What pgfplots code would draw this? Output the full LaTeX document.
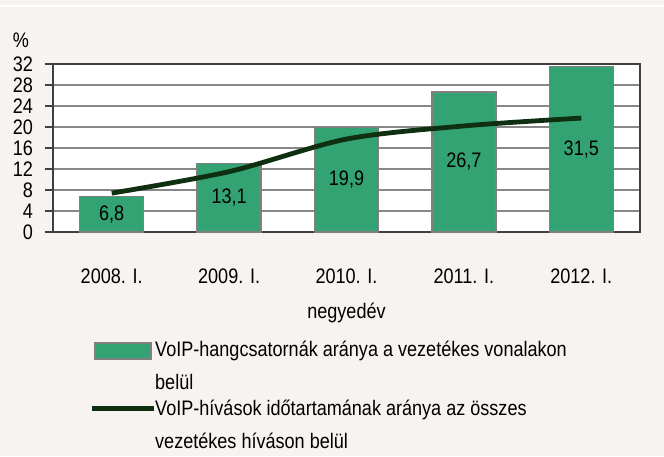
\documentclass[border=0pt]{standalone}
\usepackage{fontspec}
\setmainfont{Liberation Sans}[FakeStretch=0.86]
\usepackage{pgfplots}
\pgfplotsset{compat=1.18}

\definecolor{bg}{RGB}{246,243,240}
\definecolor{barg}{RGB}{52,163,116}
\definecolor{lineg}{RGB}{14,48,16}
\definecolor{gridc}{RGB}{135,135,135}
\definecolor{framec}{RGB}{64,64,64}
\newcommand\chartfont{\fontsize{10.5}{12.6}\selectfont}

\pgfplotsset{
    barleg/.style={legend image code/.code={\draw[##1, line width=0.7pt] (-14pt,4pt) rectangle (14pt,12pt);}},
    lineleg/.style={legend image code/.code={\draw[##1] (-15.5pt,8.5pt) -- (15.5pt,8.5pt);}},
}

\begin{document}
\begin{tikzpicture}
\fill[bg] (0,0) rectangle (332pt,228pt);
\draw[white, line width=1pt] (0,225.2pt) -- (332pt,225.2pt);
\begin{axis}[
    at={(26.5pt,112pt)}, anchor=south west,
    scale only axis, width=293.5pt, height=84pt,
    clip=false,
    xmin=-0.5, xmax=4.5, ymin=0, ymax=32,
    xtick={0,...,4},
    xticklabels={2008. I., 2009. I., 2010. I., 2011. I., 2012. I.},
    ytick={0,4,...,32},
    ymajorgrids,
    major grid style={gridc, line width=0.7pt},
    axis line style={framec, line width=0.9pt},
    axis background/.style={fill=white},
    tick align=outside, ytick pos=left, major tick length=4pt,
    xtick style={draw=none},
    ytick style={framec, line width=0.9pt},
    /pgf/number format/assume math mode=true,
    tick label style={font=\chartfont, text=black},
    xticklabel style={anchor=base, yshift=-21.5pt},
    yticklabel style={xshift=-2.5pt},
    xlabel={negyedév},
    xlabel style={font=\chartfont, at={(axis description cs:0.5,0)}, anchor=base, yshift=-43pt},
    legend cell align=left,
    legend style={at={(axis description cs:0,0)}, anchor=north west,
        xshift=18pt, yshift=-54.5pt, draw=none, fill=none, inner sep=0pt,
        row sep=3.5pt, column sep=-0.5pt,
        font=\fontsize{10.5}{16.5}\selectfont,
        nodes={align=left, inner sep=0pt}},
]
\addplot[ybar, bar width=32pt, fill=barg, draw=gray, line width=0.7pt, barleg,
    visualization depends on=rawy \as \rawy,
    nodes near coords={\pgfmathprintnumber[fixed,fixed zerofill,precision=1,use comma,assume math mode=true]{\pgfplotspointmeta}},
    nodes near coords style={font=\chartfont, text=black, anchor=center, yshift={-1.3125pt*\rawy}}]
    coordinates {(0,6.8) (1,13.1) (2,19.9) (3,26.7) (4,31.5)};
\addlegendentry{VoIP-hangcsatornák aránya a vezetékes vonalakon\\belül}
\addplot[lineg, line width=2.4pt, smooth, mark=none, lineleg]
    coordinates {(0,7.4) (1,11.5) (2,17.7) (3,20.2) (4,21.7)};
\addlegendentry{VoIP-hívások időtartamának aránya az összes\\vezetékes híváson belül}
\node[font=\chartfont, anchor=base, xshift=-16pt, yshift=8.5pt] at (rel axis cs:0,1) {\%};
\end{axis}
\pgfresetboundingbox
\path[use as bounding box] (0,0) rectangle (332pt,228pt);
\end{tikzpicture}
\end{document}
